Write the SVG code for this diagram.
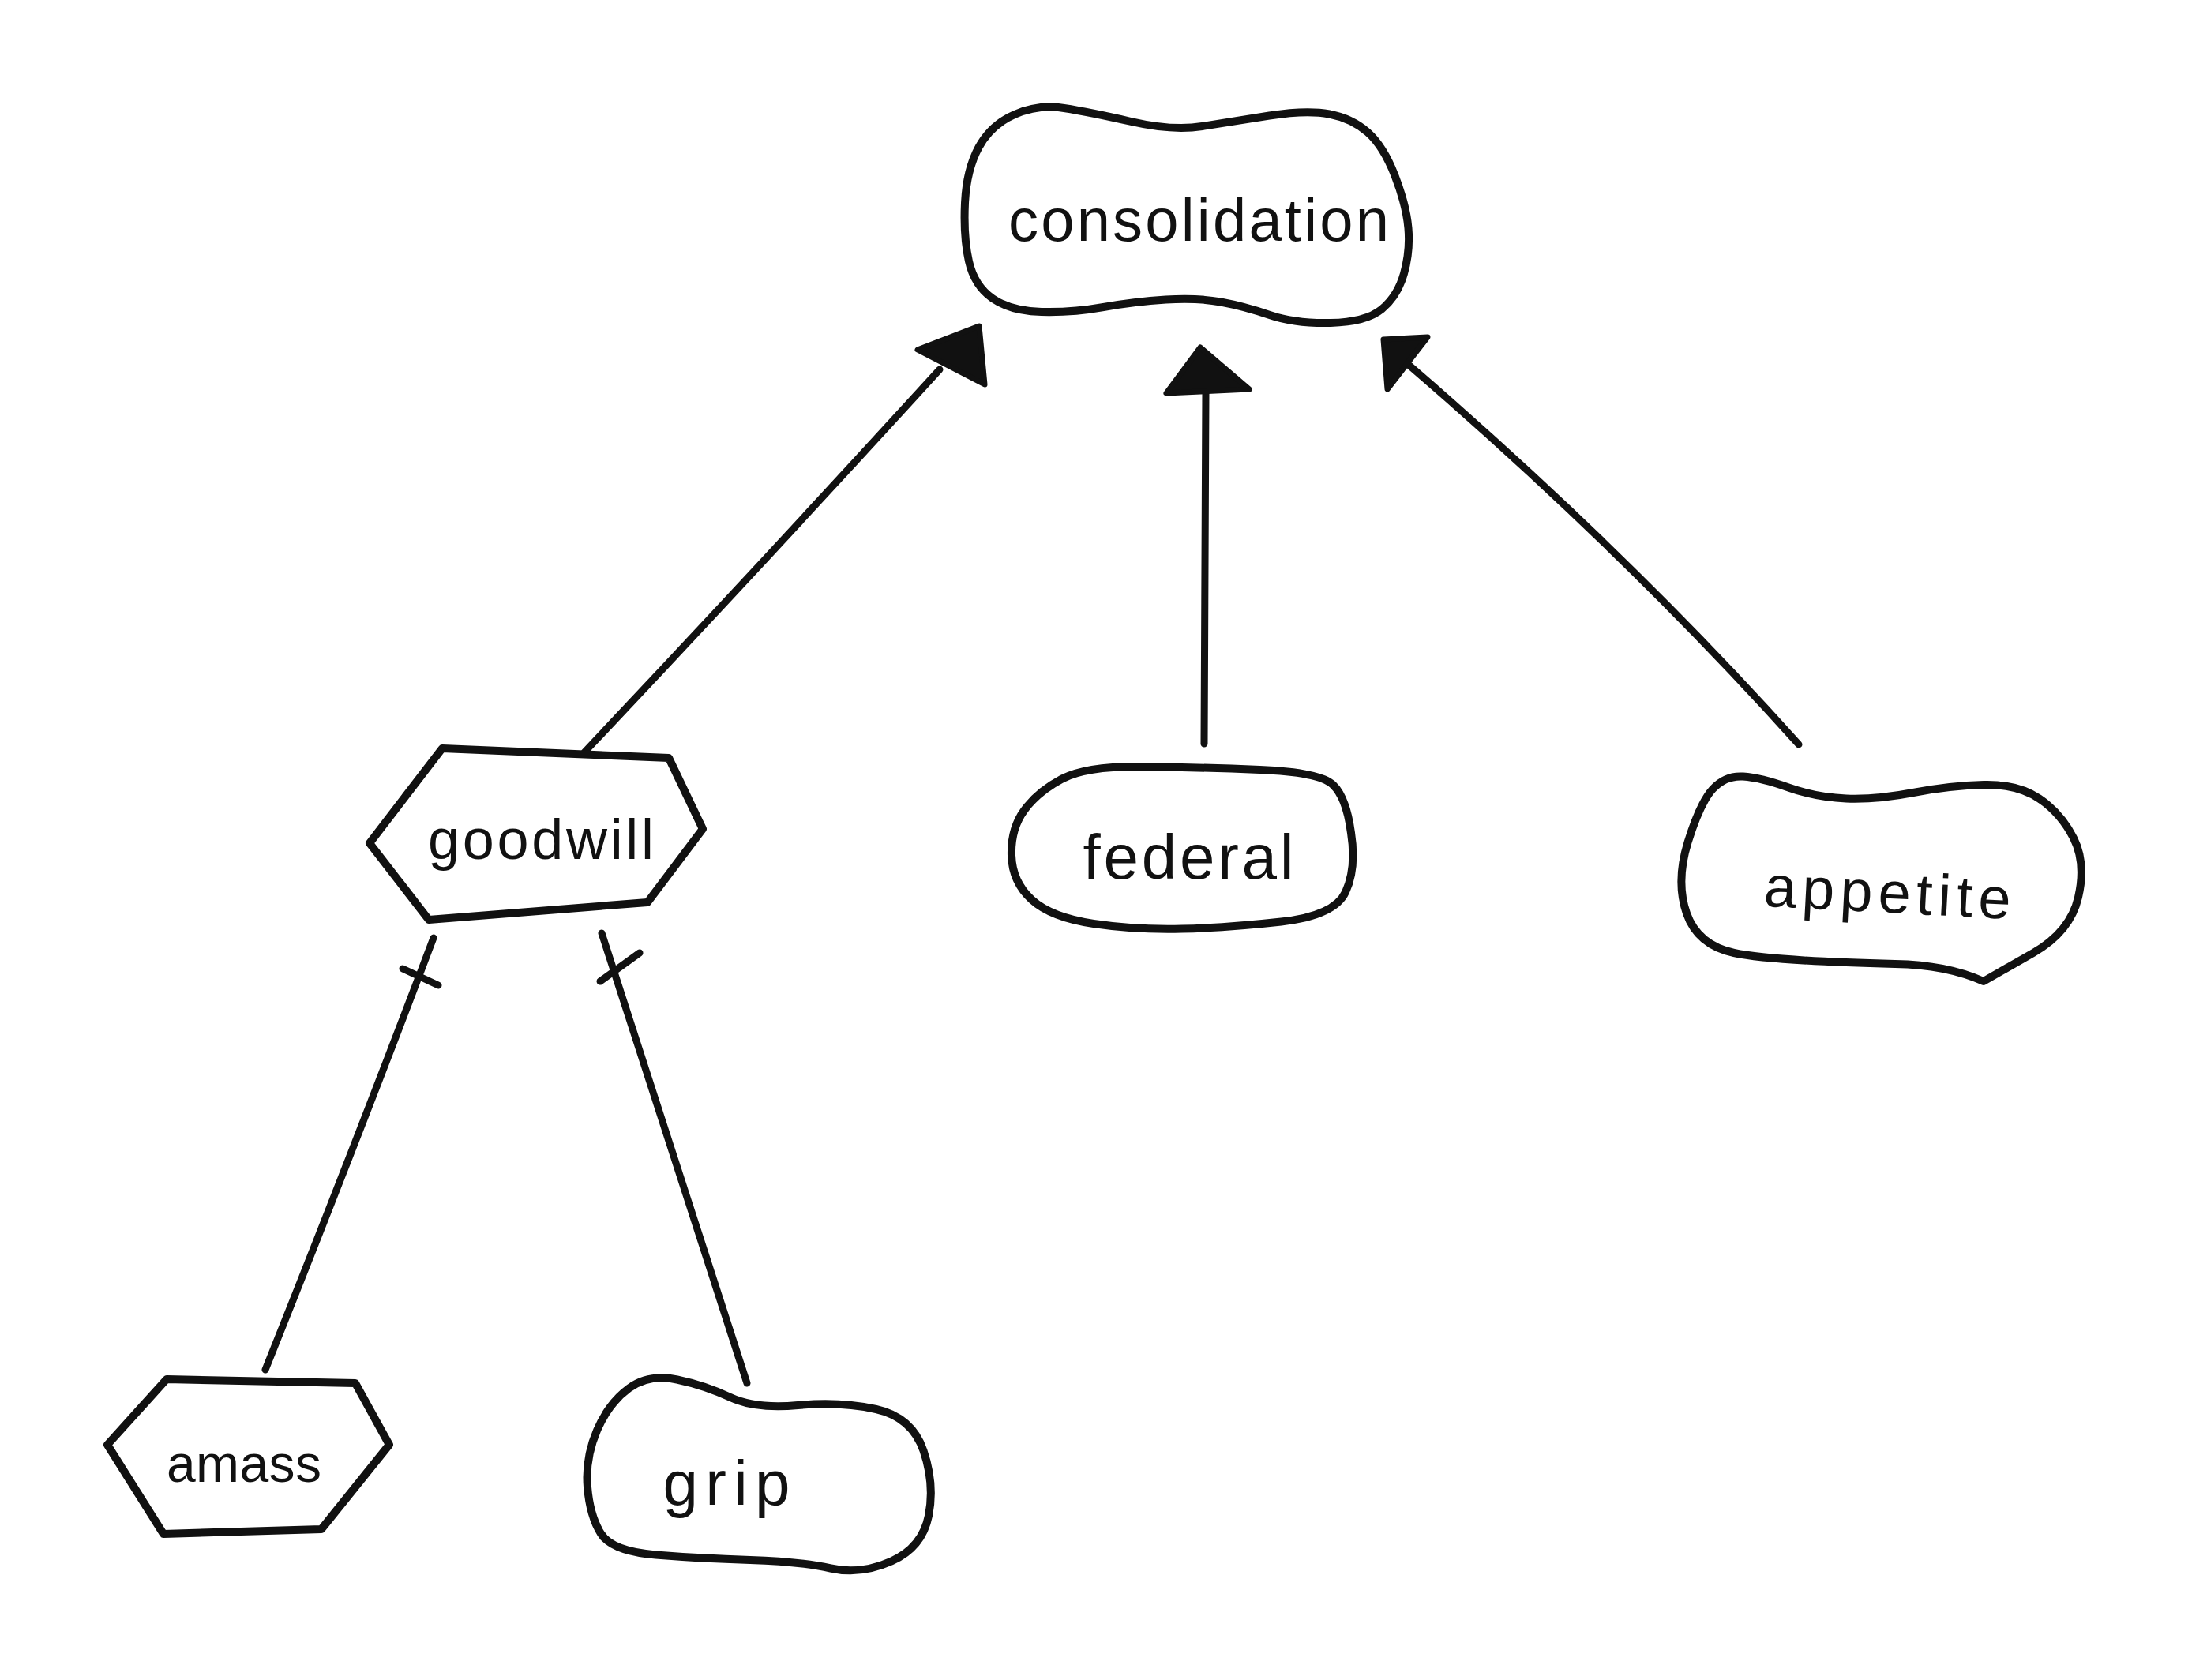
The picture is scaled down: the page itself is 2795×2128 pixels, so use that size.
<svg xmlns="http://www.w3.org/2000/svg" width="2795" height="2128" viewBox="0 0 2795 2128">
<style>
.shape{fill:#fff;stroke:#111;stroke-width:10;stroke-linejoin:round;stroke-linecap:round}
.edge{fill:none;stroke:#111;stroke-width:9;stroke-linecap:round}
.head{fill:#111;stroke:#111;stroke-width:7;stroke-linejoin:round}
.lbl{font-family:"Liberation Sans","DejaVu Sans",sans-serif;fill:#111;text-anchor:middle}
</style>
<rect width="2795" height="2128" fill="#fff"/>
<g id="connectors">
<path class="edge" d="M740,953 Q960,720 1190,468"/>
<polygon class="head" points="1162,443 1240,413 1247,487"/>
<path class="edge" d="M1525,942 L1527,495"/>
<polygon class="head" points="1520,440 1477,498 1582,493"/>
<path class="edge" d="M2278,943 Q2060,700 1785,463"/>
<polygon class="head" points="1752,430 1808,427 1757,493"/>
<path class="edge" d="M549,1188 Q450,1450 336,1735"/>
<path class="edge" d="M510,1227 L555,1248"/>
<path class="edge" d="M762,1182 L946,1752"/>
<path class="edge" d="M760,1243 L810,1207"/>
</g>
<g id="consolidation">
<path class="shape" d="M1227,331 Q1220,300 1222,257.5 Q1224,215 1239.5,186.5 Q1255,158 1285,145 Q1315,132 1347.5,137 Q1380,142 1432.5,154 Q1485,166 1522.5,160 Q1560,154 1607.5,146.5 Q1655,139 1683.5,144.5 Q1712,150 1732,167.5 Q1752,185 1766.5,222.5 Q1781,260 1783.5,289 Q1786,318 1778,346.5 Q1770,375 1750,391.5 Q1730,408 1685,409 Q1640,410 1608,399 Q1576,388 1546,382.5 Q1516,377 1476.5,379.5 Q1437,382 1397.5,389 Q1358,396 1319,395 Q1280,394 1257,378 Q1234,362 1227,331 Z"/>
<text class="lbl" x="1518" y="305" font-size="76" textLength="482" lengthAdjust="spacing">consolidation</text>
</g>
<g id="goodwill">
<polygon class="shape" points="468,1068 560,948 847,960 890,1050 820,1143 543,1165"/>
<text class="lbl" x="685" y="1088" font-size="72" textLength="286" lengthAdjust="spacing">goodwill</text>
</g>
<g id="federal">
<path class="shape" d="M1297,1026.5 Q1314,1003 1345,986.5 Q1376,970 1448,971 Q1520,972 1595.5,975 Q1671,978 1688,994 Q1705,1010 1711,1055 Q1718,1100 1704,1130 Q1690,1160 1622.5,1167.5 Q1555,1175 1497,1176.5 Q1439,1178 1385,1170 Q1331,1162 1306.5,1139.5 Q1282,1117 1281,1083.5 Q1280,1050 1297,1026.5 Z"/>
<text class="lbl" x="1505" y="1113" font-size="80" textLength="267" lengthAdjust="spacing">federal</text>
</g>
<g id="appetite">
<path class="shape" d="M2137.5,1067 Q2153,1017 2169,999.5 Q2185,982 2207.5,983.5 Q2230,985 2265,997.5 Q2300,1010 2338,1011.5 Q2376,1013 2423,1004 Q2470,995 2512.5,994 Q2555,993 2582.5,1011.5 Q2610,1030 2626,1061.5 Q2642,1093 2632,1136.5 Q2622,1180 2575,1207 L2512,1243 Q2465,1222 2400,1221 Q2242,1217 2196,1207 Q2150,1197 2136,1157 Q2122,1117 2137.5,1067 Z"/>
<text class="lbl" x="2390" y="1156" font-size="74" textLength="313" lengthAdjust="spacing" transform="rotate(3 2390 1140)">appetite</text>
</g>
<g id="amass">
<polygon class="shape" points="136,1830 211,1747 450,1752 493,1830 407,1937 207,1943"/>
<text class="lbl" x="309" y="1877" font-size="66" textLength="196" lengthAdjust="spacing">amass</text>
</g>
<g id="grip">
<path class="shape" d="M756,1812 Q771,1777 796.5,1758.5 Q822,1740 857.5,1747.5 Q893,1755 925,1770 Q957,1785 1010.5,1780 Q1064,1775 1109.5,1785 Q1155,1795 1169.5,1837.5 Q1184,1880 1176,1920 Q1168,1960 1129,1977.5 Q1090,1995 1052,1986.5 Q1014,1978 950,1976 Q886,1974 830.5,1969.5 Q775,1965 761,1942.5 Q747,1920 744,1883.5 Q741,1847 756,1812 Z"/>
<text class="lbl" x="920" y="1906" font-size="80" textLength="161" lengthAdjust="spacing">grip</text>
</g>
</svg>
